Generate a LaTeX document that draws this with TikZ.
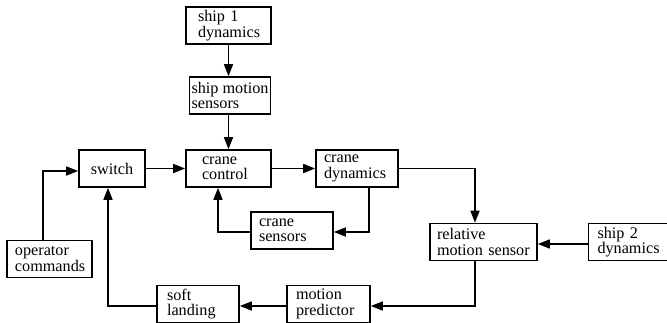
\documentclass[tikz,border=0pt]{standalone}
\usepackage{fontspec}
\setmainfont{Liberation Serif}
\usetikzlibrary{arrows.meta}

\begin{document}
\begin{tikzpicture}[x=1pt, y=-1pt,
  block/.style={draw, line width=1.6pt, minimum height=37pt, inner ysep=0pt, align=left,
    font=\fontsize{16.2}{15.5}\selectfont},
  flow/.style={line width=1.5pt, -{Triangle[length=12pt, width=9pt]}}]
% Picture frame (boxes at the lower and right edges are cut)
\useasboundingbox (0,0) rectangle (667,322);
\clip (0,0) rectangle (667,322);

% Blocks
\node[block, inner xsep=12pt, text width=61pt] (ship1) at (228.5,25.5) {ship 1\\dynamics};
\node[block, inner xsep=2pt, minimum width=80pt] (sms) at (230,95.5) {ship motion\\sensors};
\node[block, align=center, inner xsep=2pt, minimum width=66pt] (switch) at (112,168.5) {switch};
\node[block, inner xsep=16pt, text width=53pt] (cc) at (228.5,168.5) {crane\\control};
\node[block, inner xsep=8pt, text width=66pt] (cd) at (357,168.5) {crane\\dynamics};
\node[block, inner xsep=8pt, text width=66pt] (cs) at (292,230.5) {crane\\sensors};
\node[block, inner xsep=8pt, text width=69pt] (op) at (49.5,259) {operator\\commands};
\node[block, inner xsep=10pt, text width=62pt] (sl) at (198,304) {soft\\landing};
\node[block, inner xsep=9pt, text width=65pt] (mp) at (328.5,304) {motion\\predictor};
\node[block, inner xsep=7pt, text width=93pt] (rms) at (483.5,242) {relative\\motion sensor};
\node[block, inner xsep=9pt, text width=61pt] (ship2) at (628,242) {ship 2\\dynamics};

% Connectors
\draw[flow] (ship1.south) -- (ship1.south |- sms.north);
\draw[flow] (cc.north |- sms.south) -- (cc.north);
\draw[flow] (switch.east) -- (cc.west);
\draw[flow] (cc.east) -- (cd.west);
\draw[flow] (cd.east) -| ([xshift=-8.5pt]rms.north);
\draw[flow] ([xshift=12pt]cd.south) |- ([yshift=-1.5pt]cs.east);
\draw[flow] ([yshift=-1.5pt]cs.west) -| ([xshift=-10.5pt]cc.south);
\draw[flow] ([xshift=-6.5pt]op.north) |- ([yshift=-2.5pt]switch.west);
\draw[flow] ([yshift=-2pt]sl.west) -| ([xshift=-4pt]switch.south);
\draw[flow] ([yshift=-2pt]mp.west) -- ([yshift=-2pt]sl.east);
\draw[flow] ([xshift=-8.5pt]rms.south) |- ([yshift=-2pt]mp.east);
\draw[flow] ([yshift=-2pt]ship2.west) -- ([yshift=-2pt]rms.east);
\end{tikzpicture}
\end{document}
